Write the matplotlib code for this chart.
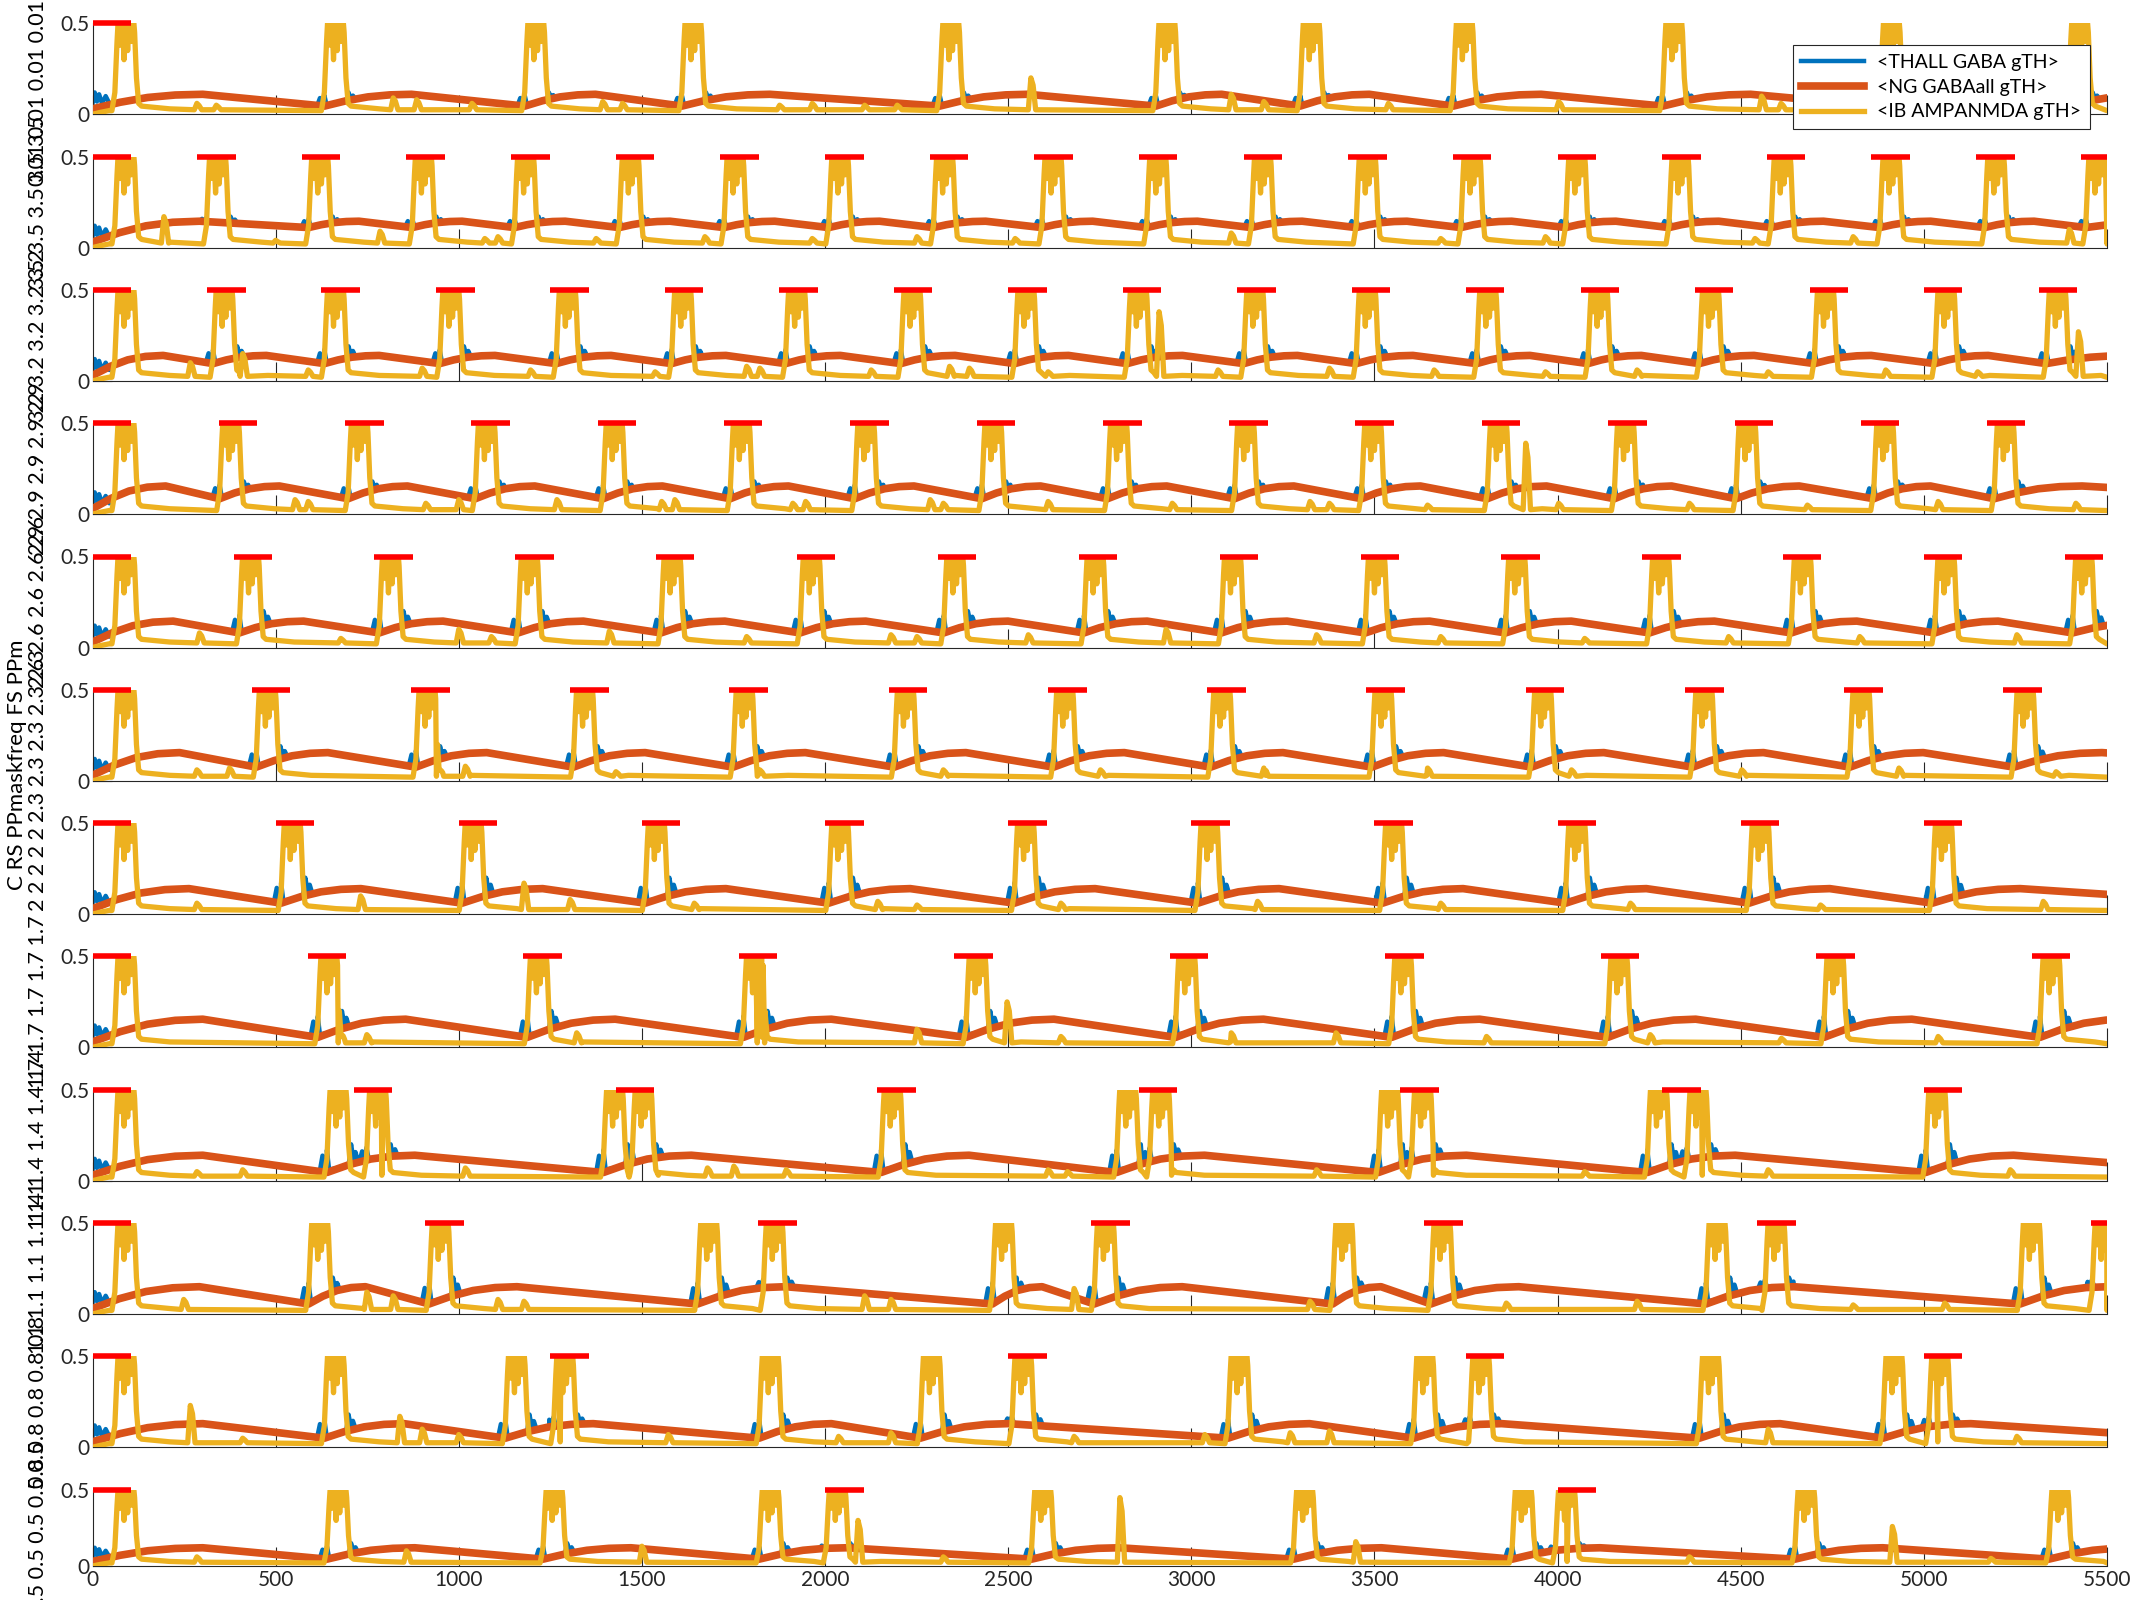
import numpy as np
import matplotlib
matplotlib.use('Agg')
import matplotlib.pyplot as plt

plt.rcParams['font.family'] = ['Lato', 'DejaVu Sans']

# matlab default colours
C_BLUE = '#0072BD'
C_ORANGE = '#D95319'
C_YELLOW = '#EDB120'
C_RED = '#FF0000'

# ---- data ----
freq_labels = ['0.01', '3.5', '3.2', '2.9', '2.6', '2.3', '2', '1.7', '1.4', '1.1', '0.8', '0.5']

# red stimulus bars (start times)
bar_starts = [
    [0],
    [0, 286, 571, 857, 1143, 1429, 1714, 2000, 2286, 2571, 2857, 3143, 3429, 3714, 4000, 4286, 4571, 4857, 5143, 5429],
    [0, 313, 625, 938, 1250, 1563, 1875, 2188, 2500, 2813, 3125, 3438, 3750, 4063, 4375, 4688, 5000, 5313],
    [0, 345, 690, 1034, 1379, 1724, 2069, 2414, 2759, 3103, 3448, 3793, 4138, 4483, 4828, 5172],
    [0, 385, 769, 1154, 1538, 1923, 2308, 2692, 3077, 3462, 3846, 4231, 4615, 5000, 5385],
    [0, 435, 870, 1304, 1739, 2174, 2609, 3043, 3478, 3913, 4348, 4783, 5217],
    [0, 500, 1000, 1500, 2000, 2500, 3000, 3500, 4000, 4500, 5000],
    [0, 588, 1176, 1765, 2353, 2941, 3529, 4118, 4706, 5294],
    [0, 714, 1429, 2143, 2857, 3571, 4286, 5000],
    [0, 909, 1818, 2727, 3636, 4545, 5455],
    [0, 1250, 2500, 3750, 5000],
    [0, 2000, 4000],
]
bar_len = 105

# centres of the big IB bursts (yellow, saturating at 0.5)
bursts = [
    [91, 663, 1210, 1639, 2343, 2933, 3327, 3745, 4317, 4911, 5425],
    [91, 341, 620, 903, 1182, 1468, 1754, 2040, 2326, 2622, 2908, 3194, 3480, 3766, 4052, 4334, 4613, 4910, 5196, 5472],
    [91, 359, 663, 978, 1296, 1611, 1922, 2237, 2548, 2855, 3173, 3480, 3809, 4113, 4417, 4731, 5060, 5364],
    [91, 377, 728, 1075, 1424, 1771, 2111, 2458, 2801, 3148, 3495, 3838, 4185, 4517, 4893, 5222],
    [91, 431, 813, 1192, 1582, 1962, 2354, 2737, 3112, 3505, 3888, 4281, 4668, 5060, 5436],
    [91, 477, 913, 1343, 1779, 2219, 2654, 3083, 3523, 3959, 4399, 4828, 5276],
    [91, 545, 1039, 1539, 2040, 2547, 3048, 3552, 4052, 4553, 5053],
    [91, 645, 1217, 1807, 2415, 2987, 3577, 4167, 4757, 5347],
    [91, 670, 778, 1425, 1503, 2183, 2826, 2916, 3541, 3631, 4275, 4383, 5035],
    [91, 620, 949, 1682, 1861, 2487, 2765, 3416, 3684, 4435, 4596, 5293, 5489],
    [91, 663, 1157, 1289, 1850, 2290, 2540, 3130, 3637, 3790, 4417, 4918, 5043],
    [91, 670, 1260, 1850, 2033, 2594, 3309, 3906, 4024, 4678, 5371],
]

# smaller yellow bumps: (time, height)
bumps = [
    [(288, .06), (341, .05), (824, .09), (888, .08), (1039, .06), (1396, .07), (1450, .06), (1879, .05),
     (1968, .06), (2111, .05), (2200, .05), (2565, .20), (3112, .11), (3201, .07), (3541, .06), (4006, .07),
     (4560, .10), (4613, .06)],
    [(198, .17), (503, .04), (788, .09), (1074, .05), (1110, .06), (1378, .05), (1675, .06), (1968, .05),
     (2254, .06), (2522, .05), (3112, .08), (3684, .05), (3970, .06), (4542, .05), (4810, .06), (5400, .10)],
    [(270, .10), (413, .15), (592, .06), (903, .07), (1199, .06), (1539, .05), (1789, .08), (1825, .07),
     (2129, .06), (2343, .08), (2397, .07), (2612, .05), (2915, .38), (3076, .06), (3380, .07), (3666, .06),
     (3970, .05), (4220, .06), (4578, .05), (4899, .06), (5150, .05), (5425, .27)],
    [(556, .08), (592, .07), (913, .06), (1003, .08), (1271, .08), (1557, .07), (1593, .08), (1915, .06),
     (1950, .07), (2290, .08), (2326, .06), (2612, .07), (2951, .06), (3327, .07), (3380, .06), (3648, .05),
     (3916, .39), (4006, .06), (4363, .06), (4685, .05), (5042, .07), (5418, .06)],
    [(295, .08), (681, .05), (1003, .10), (1092, .06), (1414, .09), (1789, .06), (2183, .07), (2254, .06),
     (2558, .07), (2934, .10), (3345, .07), (3684, .06), (4077, .05), (4470, .06), (4828, .06), (5257, .07)],
    [(288, .06), (377, .07), (949, .07), (1021, .08), (1432, .05), (1825, .06), (2326, .06), (2755, .06),
     (3201, .07), (3648, .07), (4041, .06), (4506, .06), (4935, .07), (5364, .05)],
    [(288, .06), (735, .10), (1181, .17), (1307, .08), (1646, .06), (2147, .07), (2254, .05), (2647, .06),
     (3184, .07), (3684, .06), (4202, .06), (4721, .05), (5329, .07)],
    [(681, .08), (752, .07), (1325, .08), (1825, .07), (2254, .10), (2500, .25), (2647, .06), (3112, .08),
     (3398, .08), (3809, .06), (4256, .07), (4614, .05), (5042, .06)],
    [(288, .05), (413, .06), (1021, .07), (1682, .07), (1754, .08), (1897, .06), (2612, .06), (2665, .05),
     (3345, .06), (4077, .05), (4578, .06), (5239, .06)],
    [(252, .08), (752, .12), (824, .10), (1110, .08), (1181, .07), (2111, .10), (2183, .08), (2683, .14),
     (3327, .07), (3863, .06), (4220, .07), (4810, .05), (5060, .06)],
    [(270, .23), (413, .05), (842, .17), (903, .10), (1003, .07), (1575, .07), (2040, .06), (2183, .08),
     (2683, .06), (3040, .07), (3273, .08), (3380, .09), (4578, .10), (5257, .06)],
    [(288, .06), (860, .10), (1503, .13), (2093, .30), (2326, .06), (2808, .45), (3452, .16), (4363, .06),
     (4917, .26), (5186, .05)],
]

# NG GABA slow wave: level at burst onset and peak after it
orange_trough = [0.045, 0.11, 0.095, 0.085, 0.08, 0.075, 0.06, 0.055, 0.045, 0.055, 0.05, 0.045]
orange_peak = [0.11, 0.145, 0.14, 0.155, 0.145, 0.155, 0.14, 0.155, 0.14, 0.15, 0.13, 0.12]
blue_peak = [0.12, 0.17, 0.19, 0.18, 0.2, 0.19, 0.2, 0.2, 0.2, 0.2, 0.18, 0.15]

# shape of one saturating burst (offset from centre, value)
burst_dx = [-38, -30, -24, -20, -15, -10, -5, 0, 5, 10, 15, 20, 24, 29, 35, 43, 120]
burst_y = [0.02, 0.12, 0.40, 0.55, 0.38, 0.55, 0.30, 0.55, 0.35, 0.55, 0.40, 0.55, 0.45, 0.20, 0.06, 0.045, 0.03]
# rounded rise of the NG wave after a burst (fraction of rise time, fraction of amplitude)
wave_fx = [0.0, 0.25, 0.5, 0.75, 1.0]
wave_fy = [0.0, 0.45, 0.78, 0.95, 1.0]

legend_labels = ['<THALL GABA gTH>', '<NG GABAall gTH>', '<IB AMPANMDA gTH>']
xticks = list(range(0, 5501, 500))
T_END = 5500
N_REP = 5   # the row label repeats the value for each varied population


def orange_curve(bt, lo, hi):
    xs, ys = [0], [0.03]
    kept = []
    for c in bt:
        if not kept or c - kept[-1] > 250:
            kept.append(c)
    d = hi - lo
    for i, c in enumerate(kept):
        nxt = kept[i + 1] if i + 1 < len(kept) else c + 700
        rise = min(210, 0.38 * (nxt - c))
        y0 = lo if c > 100 else 0.03
        x0 = c - 30 if c > 100 else 0
        for fx, fy in zip(wave_fx, wave_fy):
            x = x0 + fx * (c + rise - x0)
            if x > xs[-1]:
                xs.append(x)
                ys.append(y0 + fy * (hi - y0))
    # decay to the end of the run
    last_x, last_y = xs[-1], ys[-1]
    if last_x < T_END:
        slope = d / 600.0
        xs.append(T_END)
        ys.append(max(lo, last_y - slope * (T_END - last_x)))
    return np.array(xs), np.array(ys)


def yellow_curve(bt, bp):
    pts = [(0, 0.0), (20, 0.01), (45, 0.02)]
    for c in bt:
        for dx, v in zip(burst_dx, burst_y):
            pts.append((c + dx, v))
    for c, h in bp:
        pts += [(c - 10, 0.025), (c - 3, h), (c + 3, h * 0.8), (c + 10, 0.025)]
    pts.append((T_END, 0.02))
    pts.sort(key=lambda p: p[0])
    return [p[0] for p in pts], [p[1] for p in pts]


def blue_curve(bt, ox, oy, h):
    pts = list(zip(ox, oy - 0.004))
    start = [(0, 0.06), (6, 0.12), (12, 0.07), (18, 0.11), (26, 0.06), (36, 0.1), (46, 0.06)]
    pts += start
    for c in bt:
        if c < 150:
            continue
        for dx, f in [(-50, 0), (-42, 0.6), (-36, 0.1), (-30, 0.8), (-24, 0.1), (30, 0.1), (36, 1.0), (42, 0.3),
                      (48, 0.6), (56, 0)]:
            base = np.interp(c + dx, ox, oy) - 0.004
            pts.append((c + dx, base + f * (h - base)))
    pts.sort(key=lambda p: p[0])
    return [p[0] for p in pts], [p[1] for p in pts]


fig = plt.figure(figsize=(21.33, 16), dpi=100)
W, H = 2133.0, 1600.0
left_px, right_px = 92.5, 2107.0

for k in range(12):
    if k < 11:
        top_px = 23.3 + 133.3 * k
        h_px = 91.0
    else:
        top_px = 1490.0
        h_px = 76.0
    ax = fig.add_axes([left_px / W, 1 - (top_px + h_px) / H, (right_px - left_px) / W, h_px / H])

    ox, oy = orange_curve(bursts[k], orange_trough[k], orange_peak[k])
    bx, by = blue_curve(bursts[k], ox, oy, blue_peak[k])
    yx, yy = yellow_curve(bursts[k], bumps[k])

    l1, = ax.plot(bx, by, color=C_BLUE, lw=3.2, zorder=2)
    l2, = ax.plot(ox, oy, color=C_ORANGE, lw=5.5, zorder=3)
    l3, = ax.plot(yx, yy, color=C_YELLOW, lw=3.8, zorder=4)
    for s in bar_starts[k]:
        ax.plot([s, min(s + bar_len, T_END)], [0.5, 0.5], color=C_RED, lw=4, zorder=6,
                clip_on=False, solid_capstyle='butt')

    ax.set_xlim(0, T_END)
    ax.set_ylim(0, 0.5)
    ax.set_yticks([0, 0.5])
    ax.set_yticklabels(['0', '0.5'])
    ax.set_xticks(xticks)
    if k == 11:
        ax.set_xticklabels([str(t) for t in xticks])
    else:
        ax.set_xticklabels([])
    ax.tick_params(direction='in', length=14, width=0.8, colors='#262626', labelsize=15,
                   labelcolor='#262626', pad=3)
    ax.tick_params(axis='y', pad=2)
    for sp in ['top', 'right']:
        ax.spines[sp].set_visible(False)
    for sp in ['left', 'bottom']:
        ax.spines[sp].set_color('#262626')
        ax.spines[sp].set_linewidth(0.8)

    # per-row parameter values (long labels overlap their neighbours, as in the original)
    cy = 1 - (top_px + h_px / 2) / H
    fig.text(38.5 / W, cy, ' '.join([freq_labels[k]] * N_REP), rotation=90, ha='center', va='center',
             fontsize=15.5, color='black')

    if k == 0:
        leg = ax.legend([l1, l2, l3], legend_labels, loc='upper right', bbox_to_anchor=(0.9916, 0.76),
                        borderaxespad=0, fontsize=14, frameon=True, fancybox=False, framealpha=1,
                        edgecolor='#262626', handlelength=3.2, handletextpad=0.7, borderpad=0.45,
                        labelspacing=0.4)
        leg.get_frame().set_linewidth(0.8)
        leg.set_zorder(10)

fig.text(17 / W, 1 - 765 / H, 'C RS PPmaskfreq FS PPm', rotation=90, ha='center', va='center',
         fontsize=16, color='black')

fig.savefig('out.png', dpi=100)
